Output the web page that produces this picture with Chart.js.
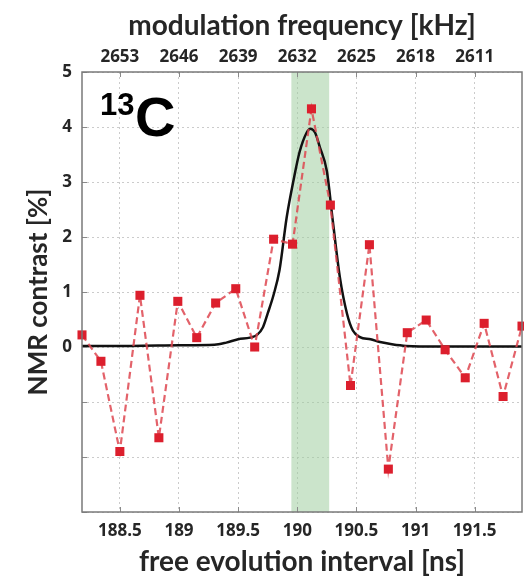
<!DOCTYPE html>
<html>
<head>
<meta charset="utf-8">
<script src="https://cdn.jsdelivr.net/npm/chart.js@4.4.1/dist/chart.umd.min.js"></script>
<style>
  html, body { margin: 0; padding: 0; background: #fff; }
  #wrap { width: 524px; height: 577px; }
</style>
</head>
<body>
<div id="wrap"><canvas id="chart" width="524" height="577"></canvas></div>
<script>
// measured points (free evolution interval in ns, contrast in %)
const tau = [188.18, 188.34, 188.50, 188.67, 188.83, 188.99, 189.15, 189.31, 189.48, 189.64, 189.80, 189.96,
             190.12, 190.28, 190.45, 190.61, 190.77, 190.93, 191.09, 191.25, 191.42, 191.58, 191.74, 191.90];
const contrast = [0.22, -0.26, -1.90, 0.94, -1.65, 0.83, 0.17, 0.80, 1.06, 0.00, 1.96, 1.87,
                  4.33, 2.58, -0.70, 1.86, -2.22, 0.26, 0.49, -0.05, -0.56, 0.43, -0.90, 0.38];

// simulated curve (black line)
const fitTau = [188.18, 188.60, 189.00, 189.30, 189.40, 189.50, 189.60, 189.66, 189.71, 189.75, 189.80, 189.85,
                189.91, 189.97, 190.02, 190.08, 190.11, 190.15, 190.19, 190.25, 190.30, 190.36, 190.42, 190.47,
                190.53, 190.62, 190.70, 190.80, 190.92, 191.20, 191.90];
const fitContrast = [0.02, 0.02, 0.03, 0.04, 0.08, 0.14, 0.17, 0.22, 0.36, 0.61, 0.95, 1.40,
                     2.35, 3.05, 3.55, 3.90, 3.97, 3.90, 3.64, 3.20, 2.30, 1.27, 0.61, 0.30,
                     0.18, 0.14, 0.09, 0.05, 0.02, 0.01, 0.01];

const tauTicks = [188.5, 189, 189.5, 190, 190.5, 191, 191.5];
const freqLabels = ['2653', '2646', '2639', '2632', '2625', '2618', '2611'];
const yTickLabels = ['0', '1', '2', '3', '4', '5'];
const resonanceBand = [189.95, 190.27];

const tickFont = { family: 'Open Sans', weight: 'bold', size: 17 };
const xTitleFont = { family: 'Lato', weight: 'bold', size: 28 };
const yTitleFont = { family: 'Lato', weight: 'bold', size: 26 };
const textColor = '#262626';
const gridColor = 'rgba(190,190,190,0.8)';

// green band behind the data
const bandPlugin = {
  id: 'band',
  beforeDatasetsDraw(chart) {
    const { ctx, chartArea, scales } = chart;
    const x0 = scales.x.getPixelForValue(resonanceBand[0]);
    const x1 = scales.x.getPixelForValue(resonanceBand[1]);
    ctx.save();
    ctx.fillStyle = 'rgba(160,205,160,0.55)';
    ctx.fillRect(x0, chartArea.top, x1 - x0, chartArea.bottom - chartArea.top);
    ctx.restore();
  }
};

// frame, inner tick marks and the isotope label
const framePlugin = {
  id: 'frame',
  afterDatasetsDraw(chart) {
    const { ctx, chartArea: a, scales } = chart;
    ctx.save();
    ctx.strokeStyle = '#8a8a8a';
    ctx.lineWidth = 1;
    tauTicks.forEach(v => {
      const px = Math.round(scales.x.getPixelForValue(v)) + 0.5;
      ctx.beginPath();
      ctx.moveTo(px, a.bottom); ctx.lineTo(px, a.bottom - 5);
      ctx.moveTo(px, a.top); ctx.lineTo(px, a.top + 5);
      ctx.stroke();
    });
    for (let v = -3; v <= 5; v++) {
      const py = Math.round(scales.y.getPixelForValue(v)) + 0.5;
      ctx.beginPath();
      ctx.moveTo(a.left, py); ctx.lineTo(a.left + 5, py);
      ctx.stroke();
    }
    ctx.strokeStyle = '#7a7a7a';
    ctx.lineWidth = 1.5;
    ctx.strokeRect(a.left, a.top, a.right - a.left, a.bottom - a.top);

    ctx.fillStyle = '#000';
    ctx.textBaseline = 'alphabetic';
    ctx.font = 'bold 31px "Liberation Sans", Arial, sans-serif';
    ctx.fillText('13', a.left + 18, a.top + 43);
    ctx.font = 'bold 56px "Liberation Sans", Arial, sans-serif';
    ctx.fillText('C', a.left + 53, a.top + 64);
    ctx.restore();
  }
};

new Chart(document.getElementById('chart'), {
  type: 'line',
  data: {
    datasets: [
      {
        label: 'data',
        data: tau.map((t, i) => ({ x: t, y: contrast[i] })),
        borderColor: 'rgba(222,70,80,0.85)',
        borderWidth: 2.2,
        borderDash: [7, 4],
        pointStyle: 'rect',
        pointRadius: 6.4,
        pointBackgroundColor: '#dc1f2d',
        pointBorderWidth: 0,
        tension: 0,
        clip: false,
        order: 1
      },
      {
        label: 'simulation',
        data: fitTau.map((t, i) => ({ x: t, y: fitContrast[i] })),
        borderColor: '#111',
        borderWidth: 2.5,
        pointRadius: 0,
        cubicInterpolationMode: 'monotone',
        order: 2
      }
    ]
  },
  options: {
    responsive: false,
    animation: false,
    layout: { padding: { right: 2 }, autoPadding: false },
    plugins: { legend: { display: false }, tooltip: { enabled: false } },
    scales: {
      x: {
        type: 'linear',
        position: 'bottom',
        min: tau[0],
        max: tau[tau.length - 1],
        afterBuildTicks: s => { s.ticks = tauTicks.map(v => ({ value: v })); },
        afterFit: s => { s.height = 65; },
        ticks: { font: tickFont, color: textColor, padding: 9, maxRotation: 0, autoSkip: false,
                 callback: v => String(v) },
        grid: { color: gridColor, drawTicks: false, lineWidth: 1 },
        border: { display: false, dash: [2, 3] },
        title: { display: true, text: 'free evolution interval [ns]', font: xTitleFont, color: textColor,
                 padding: { top: 0, bottom: -2 } }
      },
      xTop: {
        type: 'linear',
        position: 'top',
        min: tau[0],
        max: tau[tau.length - 1],
        afterBuildTicks: s => { s.ticks = tauTicks.map(v => ({ value: v })); },
        afterFit: s => { s.height = 72; },
        ticks: { font: tickFont, color: textColor, padding: 5, maxRotation: 0, autoSkip: false,
                 callback: (v, i) => freqLabels[i] },
        grid: { drawOnChartArea: false, drawTicks: false },
        border: { display: false },
        title: { display: true, text: 'modulation frequency [kHz]', font: xTitleFont, color: textColor,
                 padding: { top: 9, bottom: 0 } }
      },
      y: {
        min: -3,
        max: 5,
        afterBuildTicks: s => {
          const t = [];
          for (let v = -3; v <= 5; v++) t.push({ value: v });
          s.ticks = t;
        },
        afterFit: s => { s.width = 82; },
        ticks: { font: tickFont, color: textColor, padding: 10,
                 callback: v => (v >= 0 ? yTickLabels[v] : '') },
        grid: { color: gridColor, drawTicks: false, lineWidth: 1 },
        border: { display: false, dash: [2, 3] },
        title: { display: true, text: 'NMR contrast [%]', font: yTitleFont, color: textColor,
                 padding: { top: 23, bottom: 0 } }
      }
    }
  },
  plugins: [bandPlugin, framePlugin]
});
</script>
</body>
</html>
